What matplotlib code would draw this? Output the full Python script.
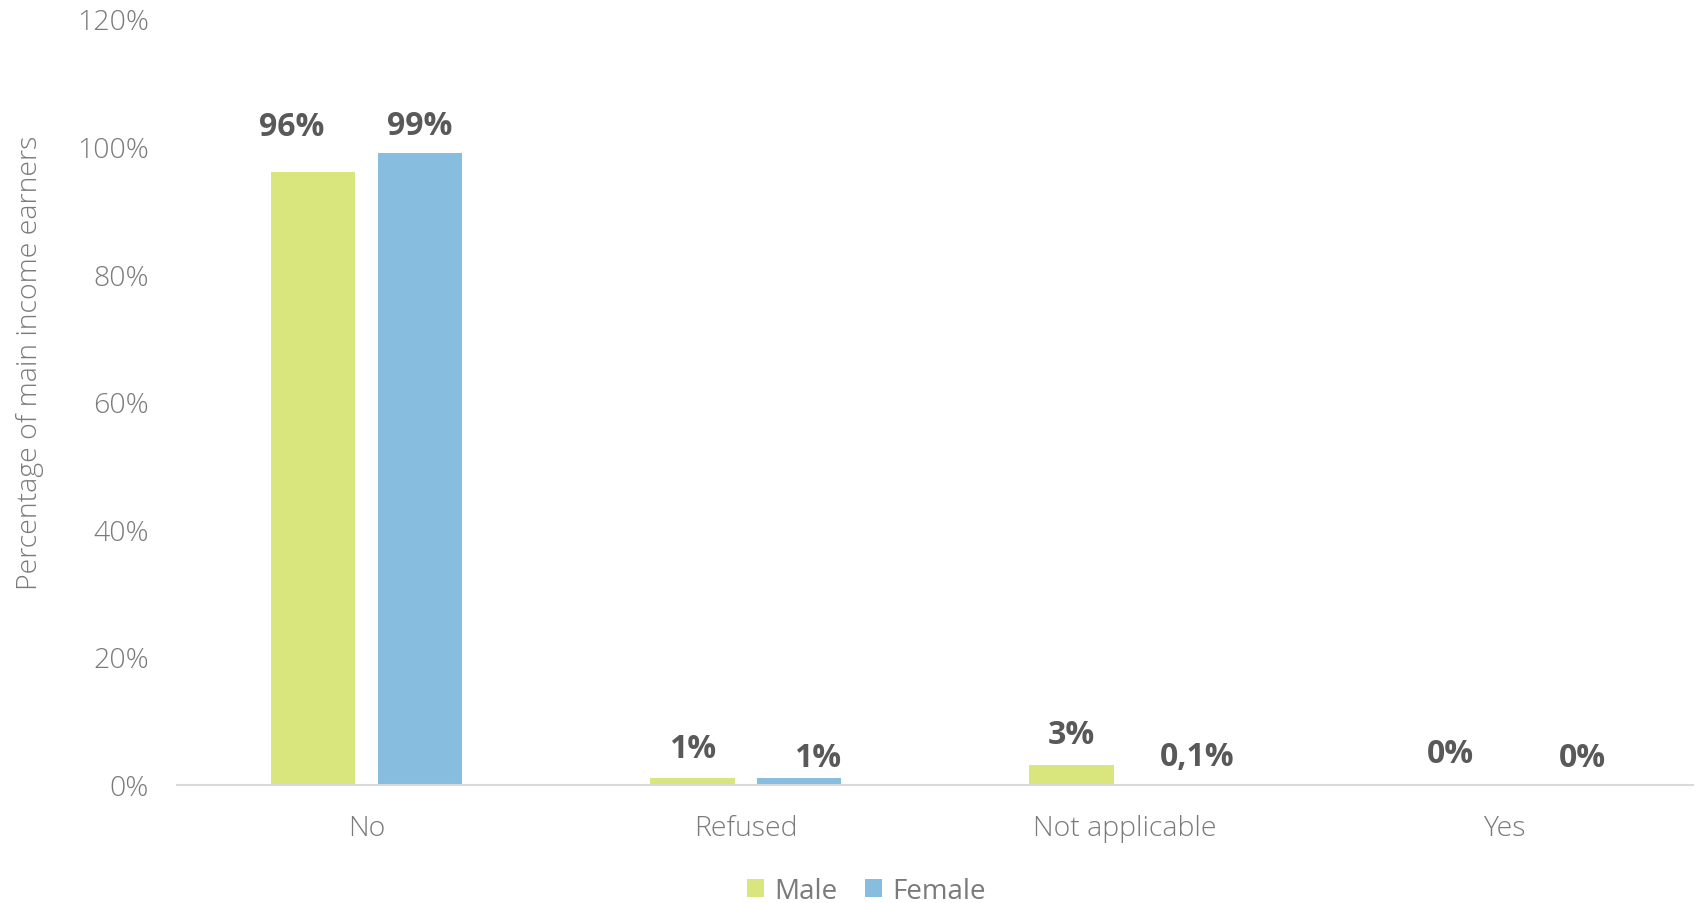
import matplotlib
matplotlib.use('Agg')
import matplotlib.pyplot as plt
import numpy as np

# Answers by sex of main income earner
categories = ["No", "Refused", "Not applicable", "Yes"]
male = [96, 1, 3, 0]
female = [99, 1, 0.1, 0]
male_labels = ["96%", "1%", "3%", "0%"]
female_labels = ["99%", "1%", "0,1%", "0%"]

# offset (dx, dy) of each value label from the top of its bar, in points
male_label_offset = [(-15.5, 32.7), (0, 21.5), (0, 22.5), (0, 22.7)]
female_label_offset = [(0, 20), (13.3, 14.7), (13.3, 19.7), (18, 19.7)]

plt.rcParams['font.family'] = ['Open Sans', 'DejaVu Sans']

green = '#D9E67E'
blue = '#87BDDE'
tick_color = '#7a7a7a'
label_color = '#595959'

fig = plt.figure(figsize=(17.02, 9.04), dpi=100)
ax = fig.add_axes([0.104, 0.131, 0.891, 0.847])

x = np.arange(len(categories))
width = 0.223
off = 0.141
bars_m = ax.bar(x - off, male, width, color=green, label='Male')
bars_f = ax.bar(x + off, female, width, color=blue, label='Female')

for bars, labels, offsets in [(bars_m, male_labels, male_label_offset),
                              (bars_f, female_labels, female_label_offset)]:
    for b, lab, o in zip(bars, labels, offsets):
        ax.annotate(lab, (b.get_x() + b.get_width() / 2, b.get_height()),
                    xytext=o, textcoords='offset points',
                    ha='center', va='center', fontsize=23, fontweight='bold',
                    color=label_color)

ax.set_xlim(-0.5, 3.5)
ax.set_ylim(0, 120)
ax.set_yticks(range(0, 121, 20))
ax.set_yticklabels([f"{v}%" for v in range(0, 121, 20)])
ax.set_xticks(x)
ax.set_xticklabels(categories)
ax.tick_params(axis='both', length=0, labelsize=20.5, labelcolor=tick_color)
ax.tick_params(axis='y', pad=20)
ax.tick_params(axis='x', pad=21.5)
for t in ax.get_xticklabels() + ax.get_yticklabels():
    t.set_fontweight(300)

for side in ['top', 'right', 'left']:
    ax.spines[side].set_visible(False)
ax.spines['bottom'].set_color('#d9d9d9')
ax.spines['bottom'].set_linewidth(1.5)

ax.set_ylabel("Percentage of main income earners", fontsize=20.5,
              color=tick_color, fontweight=300)
ax.yaxis.set_label_coords(-0.088, 0.552)

fig.legend(loc='center', bbox_to_anchor=(0.509, 0.0132), ncol=2,
           frameon=False, fontsize=20, handlelength=0.62, handleheight=0.62,
           handletextpad=0.35, columnspacing=1.0, labelcolor=tick_color)

fig.savefig("out.png", dpi=100)
